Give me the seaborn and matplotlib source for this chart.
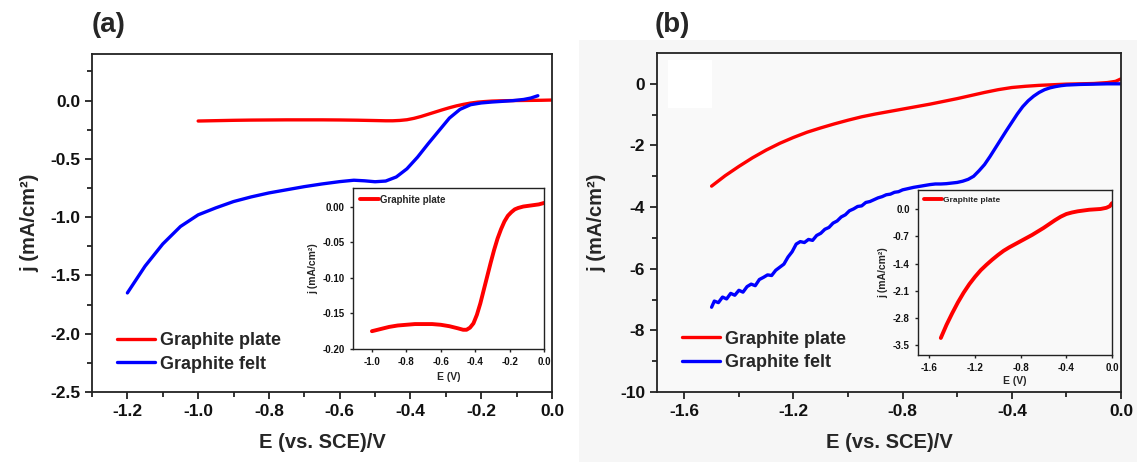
import numpy as np
import pandas as pd
import matplotlib
matplotlib.use("Agg")
import matplotlib.pyplot as plt
import seaborn as sns
from matplotlib.ticker import FixedLocator, FormatStrFormatter
from matplotlib.patches import Rectangle

# ---------------- data: panel (a) ----------------
plate_a_E = [-1.00, -0.95, -0.90, -0.85, -0.80, -0.75, -0.70, -0.65, -0.60, -0.55,
             -0.50, -0.47, -0.45, -0.43, -0.41, -0.39, -0.37, -0.35, -0.33, -0.31,
             -0.29, -0.27, -0.25, -0.23, -0.21, -0.19, -0.17, -0.15, -0.12, -0.09,
             -0.06, -0.03, 0.00]
plate_a_j = [-0.175, -0.172, -0.169, -0.167, -0.166, -0.165, -0.165, -0.165, -0.166, -0.168,
             -0.171, -0.173, -0.173, -0.170, -0.164, -0.152, -0.136, -0.117, -0.098, -0.079,
             -0.061, -0.045, -0.032, -0.021, -0.013, -0.008, -0.004, -0.002, 0.000, 0.001,
             0.002, 0.003, 0.005]

felt_a_E = [-1.20, -1.15, -1.10, -1.05, -1.00, -0.95, -0.90, -0.85, -0.80, -0.75,
            -0.70, -0.65, -0.60, -0.56, -0.53, -0.50, -0.47, -0.44, -0.41, -0.38,
            -0.35, -0.32, -0.29, -0.26, -0.23, -0.20, -0.17, -0.14, -0.11, -0.08,
            -0.06, -0.04]
felt_a_j = [-1.65, -1.42, -1.23, -1.08, -0.98, -0.92, -0.866, -0.826, -0.792, -0.765,
            -0.738, -0.715, -0.695, -0.683, -0.688, -0.696, -0.690, -0.655, -0.585, -0.485,
            -0.370, -0.260, -0.150, -0.075, -0.035, -0.020, -0.012, -0.006, 0.000, 0.010,
            0.022, 0.042]

# ---------------- data: panel (b) ----------------
plate_b_E = [-1.50, -1.45, -1.40, -1.35, -1.30, -1.25, -1.20, -1.15, -1.10, -1.05,
             -1.00, -0.95, -0.90, -0.85, -0.80, -0.75, -0.70, -0.65, -0.60, -0.55,
             -0.50, -0.45, -0.40, -0.35, -0.30, -0.25, -0.20, -0.15, -0.10, -0.05,
             -0.02, 0.00]
plate_b_j = [-3.32, -2.98, -2.68, -2.40, -2.15, -1.93, -1.74, -1.57, -1.43, -1.30,
             -1.18, -1.07, -0.98, -0.90, -0.82, -0.74, -0.66, -0.57, -0.48, -0.38,
             -0.28, -0.19, -0.12, -0.08, -0.05, -0.03, -0.01, 0.00, 0.01, 0.04,
             0.08, 0.16]

felt_b_E = [-1.500, -1.490, -1.475, -1.460, -1.445, -1.430, -1.415, -1.400, -1.385, -1.370,
            -1.355, -1.340, -1.325, -1.310, -1.295, -1.280, -1.265, -1.250, -1.235, -1.220,
            -1.205, -1.190, -1.175, -1.160, -1.145, -1.130, -1.115, -1.100, -1.085, -1.070,
            -1.055, -1.040, -1.025, -1.010, -0.995, -0.980, -0.965, -0.950, -0.935, -0.920,
            -0.905, -0.890, -0.875, -0.860, -0.845, -0.830, -0.815, -0.800, -0.780, -0.760,
            -0.740, -0.720, -0.700, -0.680, -0.660, -0.640, -0.620, -0.600, -0.580, -0.560,
            -0.540, -0.520, -0.500, -0.480, -0.460, -0.440, -0.420, -0.400, -0.380, -0.360,
            -0.340, -0.320, -0.300, -0.280, -0.260, -0.240, -0.220, -0.200, -0.150, -0.100,
            -0.050, 0.000]
felt_b_j = [-7.25, -7.05, -7.10, -6.92, -6.98, -6.80, -6.86, -6.70, -6.76, -6.58,
            -6.50, -6.55, -6.35, -6.28, -6.20, -6.22, -6.05, -5.95, -5.85, -5.62,
            -5.45, -5.20, -5.12, -5.15, -5.05, -5.08, -4.92, -4.85, -4.72, -4.66,
            -4.52, -4.45, -4.32, -4.25, -4.12, -4.06, -3.98, -3.96, -3.85, -3.82,
            -3.76, -3.70, -3.66, -3.60, -3.58, -3.52, -3.50, -3.44, -3.40, -3.36,
            -3.33, -3.30, -3.27, -3.25, -3.25, -3.24, -3.22, -3.20, -3.16, -3.10,
            -3.00, -2.82, -2.62, -2.36, -2.08, -1.80, -1.52, -1.25, -0.98, -0.74,
            -0.55, -0.40, -0.28, -0.19, -0.13, -0.09, -0.06, -0.04, -0.02, -0.01,
            0.00, 0.00]

labels = ["Graphite plate", "Graphite felt"]
colors = ["#ff0000", "#0000ff"]

# ---------------- style ----------------
sns.set_theme(style="ticks")
plt.rcParams["font.family"] = ["Liberation Sans", "DejaVu Sans"]
plt.rcParams["font.weight"] = "bold"
plt.rcParams["axes.labelweight"] = "bold"
plt.rcParams["axes.unicode_minus"] = False

W, H = 1137, 462
fig = plt.figure(figsize=(W / 100, H / 100), dpi=100)
fig.patch.set_facecolor("white")
fig.patches.append(Rectangle((579 / W, 0), 1 - 579 / W, (H - 40) / H,
                             transform=fig.transFigure, facecolor="#f6f6f6",
                             edgecolor="none", zorder=-10))


def rect(l, t, r, b):
    return [l / W, (H - b) / H, (r - l) / W, (b - t) / H]


def style(ax, xt, xmin, yt, ymin, xfmt, yfmt, size, lw=1.3, ln=5):
    for s in ax.spines.values():
        s.set_color("#222222")
        s.set_linewidth(lw)
        s.set_visible(True)
    ax.xaxis.set_major_locator(FixedLocator(xt))
    ax.yaxis.set_major_locator(FixedLocator(yt))
    if xmin is not None:
        ax.xaxis.set_minor_locator(FixedLocator(xmin))
    if ymin is not None:
        ax.yaxis.set_minor_locator(FixedLocator(ymin))
    ax.xaxis.set_major_formatter(FormatStrFormatter(xfmt))
    ax.yaxis.set_major_formatter(FormatStrFormatter(yfmt))
    ax.tick_params(which="major", direction="out", length=ln, width=lw,
                   labelsize=size, color="#222222", labelcolor="#111111")
    ax.tick_params(which="minor", direction="out", length=ln * 0.7, width=lw,
                   color="#222222")
    for t in ax.get_xticklabels() + ax.get_yticklabels():
        t.set_fontweight("bold")


def draw(ax, E, j, color, label, lw):
    df = pd.DataFrame({"E": E, "j": j})
    sns.lineplot(data=df, x="E", y="j", ax=ax, color=color, linewidth=lw,
                 label=label, sort=False, estimator=None)


# ---------------- panel (a) ----------------
axa = fig.add_axes(rect(92, 54, 552, 392))
axa.set_facecolor("white")
draw(axa, plate_a_E, plate_a_j, colors[0], labels[0], 2.4)
draw(axa, felt_a_E, felt_a_j, colors[1], labels[1], 2.4)
axa.set_xlim(-1.3, 0.0)
axa.set_ylim(-2.5, 0.4)
style(axa, [-1.2, -1.0, -0.8, -0.6, -0.4, -0.2, 0.0],
      [-1.3, -1.1, -0.9, -0.7, -0.5, -0.3, -0.1],
      [0.0, -0.5, -1.0, -1.5, -2.0, -2.5],
      [0.25, -0.25, -0.75, -1.25, -1.75, -2.25], "%.1f", "%.1f", 12.5)
axa.set_xlabel("E (vs. SCE)/V", fontsize=14.5, fontweight="bold", labelpad=10)
axa.set_ylabel("j (mA/cm²)", fontsize=14.5, fontweight="bold", labelpad=8)
axa.legend(loc="lower left", bbox_to_anchor=(0.03, 0.025), frameon=False,
           prop={"size": 13, "weight": "bold"}, handlelength=2.1,
           handletextpad=0.3, labelspacing=0.35, borderaxespad=0.2)
fig.text(92 / W, 1 - 12 / H, "(a)", fontsize=20, fontweight="bold",
         ha="left", va="top")

# inset (a)
ina = fig.add_axes(rect(353, 188, 544, 349))
ina.set_facecolor("white")
draw(ina, plate_a_E, plate_a_j, colors[0], labels[0], 2.8)
ina.set_xlim(-1.11, 0.0)
ina.set_ylim(-0.20, 0.026)
style(ina, [-1.0, -0.8, -0.6, -0.4, -0.2, 0.0], None,
      [0.0, -0.05, -0.10, -0.15, -0.20], None, "%.1f", "%.2f", 7, lw=1.0, ln=2.5)
ina.set_xlabel("E (V)", fontsize=7.5, fontweight="bold", labelpad=3)
ina.set_ylabel("j (mA/cm²)", fontsize=7.5, fontweight="bold", labelpad=3)
ina.legend(loc="upper left", frameon=False, prop={"size": 7, "weight": "bold"},
           handlelength=2.0, handletextpad=0.1, borderaxespad=0.3)

# ---------------- panel (b) ----------------
axb = fig.add_axes(rect(657, 53, 1121, 392))
axb.set_facecolor("#f9f9f9")
axb.add_patch(Rectangle((668, H - 108), 44, 48, transform=None, facecolor="white",
                        edgecolor="none", zorder=0))
draw(axb, plate_b_E, plate_b_j, colors[0], labels[0], 2.4)
draw(axb, felt_b_E, felt_b_j, colors[1], labels[1], 2.4)
axb.set_xlim(-1.7, 0.0)
axb.set_ylim(-10, 1)
style(axb, [-1.6, -1.2, -0.8, -0.4, 0.0], [-1.4, -1.0, -0.6, -0.2],
      [0, -2, -4, -6, -8, -10], [-1, -3, -5, -7, -9], "%.1f", "%d", 12.5)
axb.set_xlabel("E (vs. SCE)/V", fontsize=14.5, fontweight="bold", labelpad=10)
axb.set_ylabel("j (mA/cm²)", fontsize=14.5, fontweight="bold", labelpad=10)
axb.legend(loc="lower left", bbox_to_anchor=(0.03, 0.03), frameon=False,
           prop={"size": 13, "weight": "bold"}, handlelength=2.1,
           handletextpad=0.3, labelspacing=0.35, borderaxespad=0.2)
fig.text(655 / W, 1 - 12 / H, "(b)", fontsize=20, fontweight="bold",
         ha="left", va="top")

# inset (b)
inb = fig.add_axes(rect(918, 190, 1112, 355))
inb.set_facecolor("#f9f9f9")
draw(inb, plate_b_E, plate_b_j, colors[0], labels[0], 2.8)
inb.set_xlim(-1.7, 0.0)
inb.set_ylim(-3.76, 0.5)
style(inb, [-1.6, -1.2, -0.8, -0.4, 0.0], None,
      [0.0, -0.7, -1.4, -2.1, -2.8, -3.5], None, "%.1f", "%.1f", 7, lw=1.0, ln=2.5)
inb.set_xlabel("E (V)", fontsize=7.5, fontweight="bold", labelpad=2)
inb.set_ylabel("j (mA/cm²)", fontsize=7.5, fontweight="bold", labelpad=3)
inb.legend(loc="upper left", frameon=False, prop={"size": 6, "weight": "bold"},
           handlelength=2.2, handletextpad=0.1, borderaxespad=0.3)

fig.savefig("out.png", dpi=100)
